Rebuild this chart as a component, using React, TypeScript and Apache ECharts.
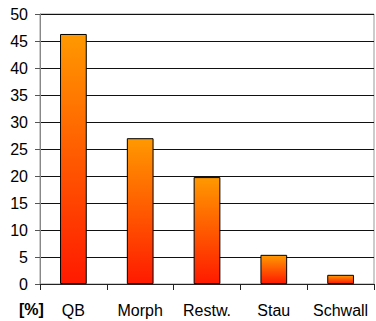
import React, { useEffect, useRef } from "react";
import * as echarts from "echarts";

const categories = ["QB", "Morph", "Restw.", "Stau", "Schwall"];
const values = [46.3, 27.0, 19.8, 5.4, 1.7];
const yMin = 0;
const yMax = 50;
const yInterval = 5;
const unitLabel = "[%]";

export default function App() {
  const ref = useRef<HTMLDivElement>(null);
  useEffect(() => {
    if (!ref.current) return;
    const chart = echarts.init(ref.current, null, { renderer: "svg" });
    const font = "'Liberation Sans', Arial, sans-serif";
    chart.setOption({
      animation: false,
      backgroundColor: "#fff",
      grid: {
        left: 40,
        right: 2,
        top: 14,
        bottom: 37,
        show: true,
        borderColor: "#999",
        borderWidth: 1,
      },
      xAxis: {
        type: "category",
        data: categories,
        axisLine: { lineStyle: { color: "#222", width: 1 } },
        axisTick: { show: true, length: 6, lineStyle: { color: "#222" } },
        axisLabel: {
          color: "#000",
          fontSize: 16,
          fontFamily: font,
          margin: 18,
          interval: 0,
        },
      },
      yAxis: {
        type: "value",
        min: yMin,
        max: yMax,
        interval: yInterval,
        axisLine: { show: true, lineStyle: { color: "#888", width: 1 } },
        axisTick: { show: true, length: 5, lineStyle: { color: "#555" } },
        axisLabel: { color: "#000", fontSize: 16, fontFamily: font, margin: 12 },
        splitLine: { lineStyle: { color: "#111", width: 1 } },
      },
      graphic: [
        {
          type: "text",
          left: 19,
          top: 301,
          style: {
            text: unitLabel,
            fontSize: 16,
            fontWeight: "bold",
            fontFamily: font,
            fill: "#000",
          },
        },
      ],
      series: [
        {
          type: "bar",
          data: values,
          barWidth: "40%",
          itemStyle: {
            borderColor: "#000",
            borderWidth: 1,
            color: new echarts.graphic.LinearGradient(0, 0, 0, 1, [
              { offset: 0, color: "#FF9900" },
              { offset: 1, color: "#FF1A00" },
            ]),
          },
        },
      ],
    });
    return () => chart.dispose();
  }, []);
  return (
    <div
      ref={ref}
      style={{ position: "fixed", left: 0, top: 0, width: 376, height: 321 }}
    />
  );
}
